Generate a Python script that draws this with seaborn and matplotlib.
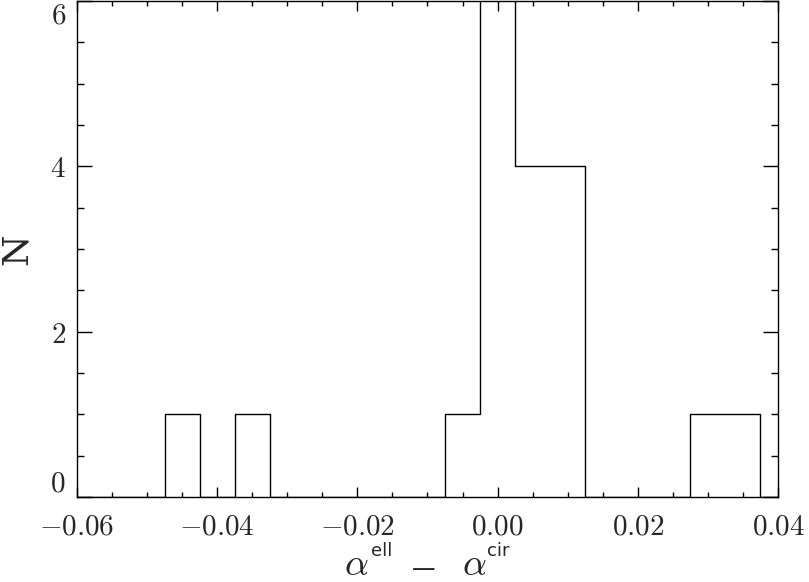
import numpy as np
import pandas as pd
import matplotlib
matplotlib.use("Agg")
import matplotlib.pyplot as plt
from matplotlib.ticker import MultipleLocator, FuncFormatter
import seaborn as sns

# Data: histogram bin centres and counts (bin width 0.005)
bin_centers = [-0.045, -0.035, -0.005, 0.000, 0.005, 0.010, 0.030, 0.035]
counts = [1, 1, 1, 7, 4, 4, 1, 1]
x_ticks = [-0.06, -0.04, -0.02, 0.00, 0.02, 0.04]
y_ticks = [0, 2, 4, 6]

df = pd.DataFrame({"dalpha": bin_centers, "N": counts})

sns.set_style("ticks")
plt.rcParams["mathtext.fontset"] = "cm"
plt.rcParams["font.family"] = ["DejaVu Serif"]

W, H = 809, 582
fig = plt.figure(figsize=(W / 100, H / 100), dpi=100)
ax = fig.add_axes([77 / W, 85 / H, 701 / W, 496 / H])

sns.histplot(data=df, x="dalpha", weights="N", binwidth=0.005,
             binrange=(-0.0625, 0.0425), element="step", fill=False,
             color="black", linewidth=1.0, ax=ax)

ax.set_xlim(-0.06, 0.04)
ax.set_ylim(0, 6)
ax.set_xticks(x_ticks)
ax.set_yticks(y_ticks)
ax.xaxis.set_minor_locator(MultipleLocator(0.005))
ax.yaxis.set_minor_locator(MultipleLocator(0.5))
ax.xaxis.set_major_formatter(FuncFormatter(lambda v, p: r"$%.2f$" % v))
ax.yaxis.set_major_formatter(FuncFormatter(lambda v, p: r"$%d$" % round(v)))

ax.tick_params(axis="both", which="both", direction="in", top=True, right=True,
               width=1.0, color="black")
ax.tick_params(axis="x", which="major", length=7, labelsize=21, pad=11)
ax.tick_params(axis="x", which="minor", length=3.5)
ax.tick_params(axis="y", which="major", length=11, labelsize=21, pad=8)
ax.tick_params(axis="y", which="minor", length=5)
for s in ax.spines.values():
    s.set_visible(True)
    s.set_linewidth(1.0)
    s.set_color("black")

yt = ax.yaxis.get_major_ticks()
yt[0].label1.set_va("bottom")
yt[-1].label1.set_va("top")
ax.set_xlabel("")
ax.set_ylabel("")


def fx(px):
    return px / W


def fy(py):
    return 1 - py / H


# y label
fig.text(fx(17), fy(249), "N", fontsize=26, rotation=90,
         family="DejaVu Serif", ha="center", va="center")

# x label: alpha^ell - alpha^cir
fig.text(fx(344), fy(575), r"$\alpha$", fontsize=27, ha="left", va="baseline")
fig.text(fx(371), fy(556), "ell", fontsize=13, family="DejaVu Sans",
         ha="left", va="baseline")
fig.text(fx(424), fy(576), "\u2014", fontsize=17, family="DejaVu Sans",
         ha="center", va="baseline")
fig.text(fx(462), fy(575), r"$\alpha$", fontsize=27, ha="left", va="baseline")
fig.text(fx(487), fy(556), "cir", fontsize=13, family="DejaVu Sans",
         ha="left", va="baseline")

fig.savefig("out.png", dpi=100, facecolor="white")
